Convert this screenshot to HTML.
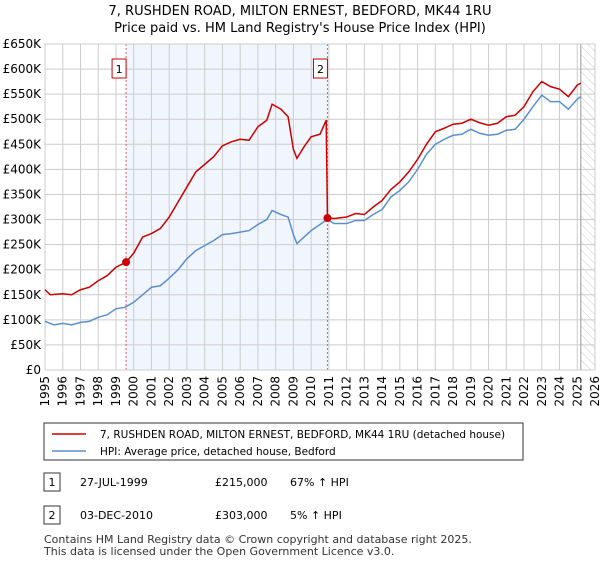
<!DOCTYPE html>
<html><head><meta charset="utf-8"><style>
body{margin:0;background:#fff;font-family:"Liberation Sans","DejaVu Sans",sans-serif;}
svg text{font-family:"DejaVu Sans","Liberation Sans",sans-serif;}
</style></head><body>
<svg width="600" height="560" xmlns="http://www.w3.org/2000/svg">
<defs><pattern id="hatch" width="6" height="6" patternUnits="userSpaceOnUse" patternTransform="rotate(-45)"><line x1="0" y1="0" x2="0" y2="6" stroke="#ccc" stroke-width="1"/></pattern></defs>
<text x="300" y="15" text-anchor="middle" font-size="13">7, RUSHDEN ROAD, MILTON ERNEST, BEDFORD, MK44 1RU</text>
<text x="300" y="32" text-anchor="middle" font-size="13">Price paid vs. HM Land Registry's House Price Index (HPI)</text>
<g id="plot"></g>
<g>
<rect x="44" y="423" width="479" height="37" fill="#fff" stroke="#333"/>
<line x1="52" y1="434" x2="86" y2="434" stroke="#cc0000" stroke-width="1.5"/>
<text x="100" y="438" font-size="10.5">7, RUSHDEN ROAD, MILTON ERNEST, BEDFORD, MK44 1RU (detached house)</text>
<line x1="52" y1="451" x2="86" y2="451" stroke="#5b8fd0" stroke-width="1.5"/>
<text x="100" y="455" font-size="10.5">HPI: Average price, detached house, Bedford</text>
</g>
<g font-size="11">
<rect x="44" y="473" width="16" height="18" fill="#fff" stroke="#333"/><text x="52" y="486" text-anchor="middle">1</text>
<text x="80" y="486">27-JUL-1999</text><text x="215" y="486">£215,000</text><text x="290" y="486">67% ↑ HPI</text>
<rect x="44" y="506" width="16" height="18" fill="#fff" stroke="#333"/><text x="52" y="519" text-anchor="middle">2</text>
<text x="80" y="519">03-DEC-2010</text><text x="215" y="519">£303,000</text><text x="290" y="519">5% ↑ HPI</text>
</g>
<text x="44" y="543" font-size="11" fill="#333">Contains HM Land Registry data © Crown copyright and database right 2025.</text>
<text x="44" y="555" font-size="11" fill="#333">This data is licensed under the Open Government Licence v3.0.</text>
</svg>
<script>
const hpiYears=[1995,1995.5,1996,1996.5,1997,1997.5,1998,1998.5,1999,1999.5,2000,2000.5,2001,2001.5,2002,2002.5,2003,2003.5,2004,2004.5,2005,2005.5,2006,2006.5,2007,2007.5,2007.8,2008.3,2008.7,2009,2009.2,2009.6,2010,2010.5,2010.9,2011.3,2012,2012.5,2013,2013.5,2014,2014.5,2015,2015.5,2016,2016.5,2017,2017.5,2018,2018.5,2019,2019.5,2020,2020.5,2021,2021.5,2022,2022.5,2023,2023.5,2024,2024.5,2025,2025.2];
const hpiValues=[97,90,93,90,95,97,105,110,122,125,135,150,165,168,183,200,222,238,248,258,270,272,275,278,290,300,318,310,305,270,252,265,278,290,300,292,292,298,298,310,320,345,358,375,400,430,450,460,468,470,480,472,468,470,478,480,500,525,548,535,535,520,540,545];
const redYears=[1995,1995.3,1996,1996.5,1997,1997.5,1998,1998.5,1999,1999.57,2000,2000.5,2001,2001.5,2002,2002.5,2003,2003.5,2004,2004.5,2005,2005.5,2006,2006.5,2007,2007.5,2007.8,2008.3,2008.7,2009,2009.2,2009.6,2010,2010.5,2010.85,2010.92,2011.3,2012,2012.5,2013,2013.5,2014,2014.5,2015,2015.5,2016,2016.5,2017,2017.5,2018,2018.5,2019,2019.5,2020,2020.5,2021,2021.5,2022,2022.5,2023,2023.5,2024,2024.5,2025,2025.2];
const redValues=[160,150,152,150,160,165,178,188,205,215,233,265,272,282,305,335,365,395,410,425,447,455,460,458,485,498,530,520,505,440,422,445,465,470,498,303,302,305,312,310,325,338,360,375,395,420,450,475,482,490,492,500,493,488,492,505,508,525,555,575,565,560,545,568,572];
const saleYears=[1999.57,2010.92];
const saleValues=[215,303];
const saleLabels=["1","2"];
const yTicks=[0,50,100,150,200,250,300,350,400,450,500,550,600,650];
const xTicks=[1995,1996,1997,1998,1999,2000,2001,2002,2003,2004,2005,2006,2007,2008,2009,2010,2011,2012,2013,2014,2015,2016,2017,2018,2019,2020,2021,2022,2023,2024,2025,2026];
const NS="http://www.w3.org/2000/svg";
const X0=45,X1=595,Y0=370,Y1=44;
const xs=y=>X0+(y-1995)/(2026-1995)*(X1-X0);
const ys=v=>Y0-v/650*(Y0-Y1);
const g=document.getElementById('plot');
function mk(t,a){const e=document.createElementNS(NS,t);for(const k in a)e.setAttribute(k,a[k]);g.appendChild(e);return e;}
let e;
e=mk('rect',{x:xs(1999.57),y:Y1,width:xs(2010.92)-xs(1999.57),height:Y0-Y1,fill:'#eef3fc',opacity:0.8});


e=mk('rect',{x:xs(2025.2),y:Y1,width:X1-xs(2025.2),height:Y0-Y1,fill:'url(#hatch)'});


yTicks.forEach(v=>{
 e=mk('line',{x1:X0,x2:X1,y1:ys(v),y2:ys(v),stroke:'#ccc','stroke-width':1});
 
 
 e=mk('text',{x:X0-4,y:ys(v)+4,'text-anchor':'end','font-size':12});
 e.textContent=v===0?'£0':'£'+v+'K';
 
 
});
xTicks.forEach(y=>{
 e=mk('line',{x1:xs(y),x2:xs(y),y1:Y1,y2:Y0,stroke:'#ccc','stroke-width':1});
 
 
 e=mk('text',{x:0,y:0,'font-size':12,'text-anchor':'end',transform:`translate(${xs(y)+4},${Y0+6}) rotate(-90)`});
 e.textContent=y;
 
 
});
e=mk('line',{x1:xs(2025.2),x2:xs(2025.2),y1:Y1,y2:Y0,stroke:'#999','stroke-width':1});


saleYears.forEach((y,i)=>{
 e=mk('line',{x1:xs(y),x2:xs(y),y1:Y1,y2:Y0,stroke:'#e06060','stroke-width':1,'stroke-dasharray':'2,2'});
 
 
 e=mk('rect',{x:xs(y)-14,y:59,width:14,height:19,fill:'#fff',stroke:'#cc0000'});
 
 
 e=mk('text',{x:xs(y)-7,y:73,'text-anchor':'middle','font-size':11});
 e.textContent=saleLabels[i];
 
 
});
e=mk('rect',{x:X0,y:Y1,width:X1-X0,height:Y0-Y1,fill:'none',stroke:'#ccc'});


e=mk('polyline',{points:hpiYears.map((y,i)=>xs(y)+','+ys(hpiValues[i])).join(' '),fill:'none',stroke:'#5b8fd0','stroke-width':1.5});


e=mk('polyline',{points:redYears.map((y,i)=>xs(y)+','+ys(redValues[i])).join(' '),fill:'none',stroke:'#cc0000','stroke-width':1.5});


saleYears.forEach((y,i)=>{
 e=mk('circle',{cx:xs(y),cy:ys(saleValues[i]),r:4,fill:'#cc0000'});
 
 
});
</script>
</body></html>
